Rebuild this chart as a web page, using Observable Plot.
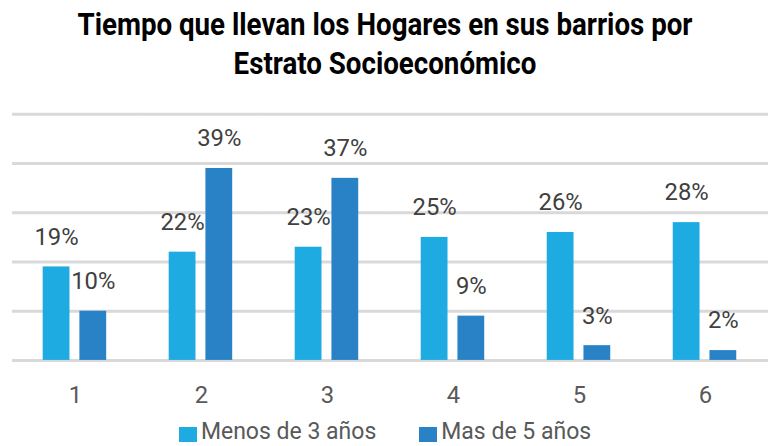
<!DOCTYPE html>
<html>
<head>
<meta charset="utf-8">
<script src="https://cdn.jsdelivr.net/npm/d3@7"></script>
<script src="https://cdn.jsdelivr.net/npm/@observablehq/plot@0.6"></script>
<style>
  html, body { margin: 0; padding: 0; background: #fff; overflow: hidden; width: 770px; height: 446px; }
  body { font-family: Roboto, "Liberation Sans", sans-serif; }
  #title { position: absolute; left: 0; top: 5px; width: 770px; text-align: center; font-weight: bold; font-size: 31px; line-height: 39px; color: #000; transform-origin: 385px 0; }
  #title span { white-space: nowrap; }
  #chart { position: absolute; left: 0; top: 95px; }
  #legend { position: absolute; left: 0; top: 419px; width: 770px; display: flex; justify-content: center; gap: 43px; font-size: 23px; line-height: 26px; color: #595959; }
  .item { display: flex; align-items: center; }
  .sw { width: 18px; height: 15px; margin-right: 4px; margin-top: 4px; }
</style>
</head>
<body>
<div id="title"><span id="t1">Tiempo que llevan los Hogares en sus barrios por</span><br><span>Estrato Socioeconómico</span></div>
<div id="chart"></div>
<div id="legend"></div>
<script>
const estratos = ["1", "2", "3", "4", "5", "6"];
const series = ["Menos de 3 años", "Mas de 5 años"];
const menos3 = [19, 22, 23, 25, 26, 28];
const mas5 = [10, 39, 37, 9, 3, 2];
const colors = ["#1eabe2", "#2a82c6"];
const gridTicks = [0, 10, 20, 30, 40, 50];

const data = [];
estratos.forEach((e, i) => {
  data.push({estrato: e, serie: series[0], value: menos3[i]});
  data.push({estrato: e, serie: series[1], value: mas5[i]});
});

const font = 'Roboto, "Liberation Sans", sans-serif';

const chart = Plot.plot({
  width: 776,
  height: 320,
  marginLeft: 10,
  marginRight: 0,
  marginTop: 19,
  marginBottom: 53,
  style: {fontFamily: font, background: "transparent"},
  fx: {domain: estratos, padding: 0, label: null},
  x: {domain: series, paddingInner: 0.26, paddingOuter: 0.81, axis: null},
  y: {domain: [0, 50], axis: null},
  color: {domain: series, range: colors},
  marks: [
    Plot.ruleY(gridTicks, {stroke: "#d9d9d9", strokeWidth: 3}),
    Plot.barY(data, {fx: "estrato", x: "serie", y: "value", fill: "serie"}),
    Plot.text(data, {fx: "estrato", x: "serie", y: "value", text: d => d.value + "%", dy: -30, fontSize: 24, fill: "#404040"}),
    Plot.axisFx({anchor: "bottom", tickSize: 0, tickPadding: 26, fontSize: 24, color: "#595959", label: null})
  ]
});
document.getElementById("chart").appendChild(chart);

const legend = document.getElementById("legend");
series.forEach((s, i) => {
  const item = document.createElement("div");
  item.className = "item";
  const sw = document.createElement("div");
  sw.className = "sw";
  sw.style.background = colors[i];
  const t = document.createElement("span");
  t.textContent = s;
  item.appendChild(sw);
  item.appendChild(t);
  legend.appendChild(item);
});

// fit the title line 1 to the reference width (~615px)
const t1 = document.getElementById("t1");
const w = t1.getBoundingClientRect().width;
document.getElementById("title").style.transform = `scaleX(${Math.min(1, 615 / w)})`;
</script>
</body>
</html>
